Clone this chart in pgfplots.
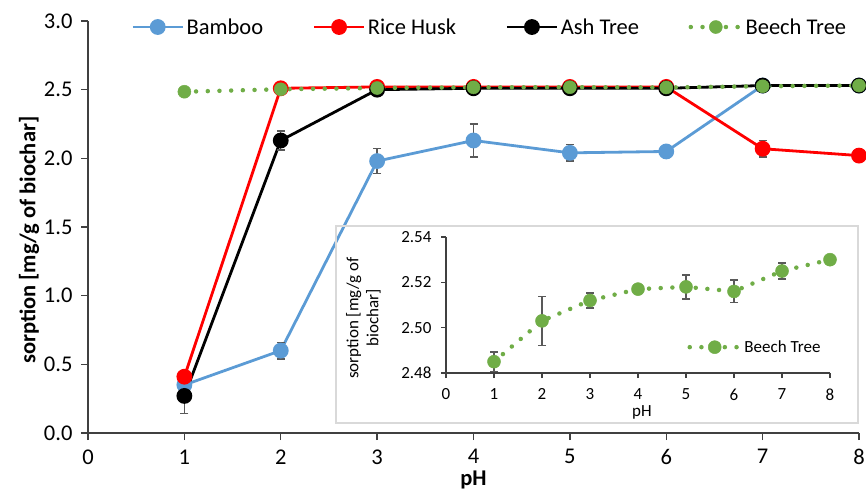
\documentclass[border=0pt]{standalone}
\usepackage{fontspec}
\setmainfont{Carlito}
\usepackage{pgfplots}
\pgfplotsset{compat=1.18}
\usepackage{pgfplotstable}

\definecolor{bamboo}{HTML}{5B9BD5}
\definecolor{husk}{HTML}{FF0000}
\definecolor{beech}{HTML}{70AD47}
\definecolor{axisgray}{HTML}{404040}
\definecolor{errgray}{HTML}{595959}
\definecolor{framegray}{HTML}{D9D9D9}

% sorption data: pH, mean sorption, standard deviation
\pgfplotstableread{
x y e
1 0.35 0
2 0.60 0.06
3 1.98 0.09
4 2.13 0.12
5 2.04 0.06
6 2.05 0
7 2.53 0
8 2.53 0
}\bambootab
\pgfplotstableread{
x y e
1 0.41 0
2 2.51 0
3 2.52 0
4 2.52 0
5 2.52 0
6 2.52 0
7 2.07 0.06
8 2.02 0
}\husktab
\pgfplotstableread{
x y e
1 0.27 0.13
2 2.13 0.07
3 2.50 0
4 2.51 0
5 2.51 0
6 2.51 0
7 2.53 0
8 2.53 0
}\ashtab
\pgfplotstableread{
x y e
1 2.485 0.0043
2 2.503 0.0108
3 2.512 0.0033
4 2.517 0.0010
5 2.518 0.0053
6 2.516 0.0050
7 2.525 0.0035
8 2.530 0
}\beechtab

\newcommand{\mainfont}{\fontsize{22.5}{27}\selectfont}
\newcommand{\insetfont}{\fontsize{17}{20}\selectfont}

\pgfplotsset{
  solidline/.style={line width=2.8pt, mark=*, mark size=6.5pt, mark options={solid}},
  dotline/.style={line width=4.5pt, line cap=round, dash pattern=on 0pt off 11.7pt,
    mark=*, mark size=6.5pt, mark options={solid, line width=0.5pt}},
  errs/.style={error bars/.cd, y dir=both, y explicit, error mark=|,
    error bar style={solid, line cap=butt, line width=1.4pt, errgray},
    error mark options={solid, line width=1.4pt, errgray, mark size=4pt}},
  twolegend/.style={legend image code/.code={
      \draw[##1] (0pt,0pt) -- (50pt,0pt);
      \draw[##1] plot coordinates {(25pt,0pt)};}},
  basestyle/.style={
    scale only axis, clip=false,
    axis x line*=bottom, axis y line*=left,
    axis line style={axisgray, line width=1.3pt},
    tick style={axisgray, line width=1.3pt},
    tick align=outside,
    /pgf/number format/assume math mode=true,
    xmin=0, xmax=8, xtick={0,...,8},
  },
}

\begin{document}
\begin{tikzpicture}
\useasboundingbox (0,0) rectangle (866pt,491pt);

\begin{axis}[basestyle,
  at={(88pt,58pt)}, anchor=south west,
  width=771pt, height=412pt,
  ymin=0, ymax=3, ytick distance=0.5,
  major tick length=7pt,
  xticklabel shift=6pt, yticklabel shift=5pt,
  yticklabel style={/pgf/number format/.cd, fixed, fixed zerofill, precision=1},
  tick label style={font=\mainfont},
  xlabel={\textbf{pH}}, ylabel={\textbf{sorption [mg/g of biochar]}},
  every axis x label/.style={at={(axis description cs:0.5,-0.1262)}, anchor=base, font=\mainfont},
  every axis y label/.style={at={(axis description cs:-0.0765,0.468)}, rotate=90, anchor=center, font=\mainfont},
  twolegend,
  legend columns=4,
  legend style={draw=none, fill=none, font=\mainfont,
    at={(0.5214,0.9854)}, anchor=center,
    nodes={inner sep=2.5pt},
    /tikz/every even column/.append style={column sep=47pt}},
]
\addplot[solidline, bamboo, errs] table[x=x, y=y, y error=e] {\bambootab};
\addlegendentry{Bamboo}
\addplot[solidline, husk, errs] table[x=x, y=y, y error=e] {\husktab};
\addlegendentry{Rice Husk}
\addplot[solidline, black, errs] table[x=x, y=y, y error=e] {\ashtab};
\addlegendentry{Ash Tree}
\addplot[dotline, beech] table[x=x, y=y] {\beechtab};
\addlegendentry{Beech Tree}
\end{axis}

% frame of the inset
\draw[framegray, line width=1.3pt] (336pt,68pt) rectangle (858pt,265pt);

\begin{axis}[basestyle,
  at={(446pt,118pt)}, anchor=south west,
  width=384pt, height=136pt,
  ymin=2.48, ymax=2.54, ytick={2.48,2.50,2.52,2.54},
  major tick length=5pt,
  xticklabel shift=7pt, yticklabel shift=6pt,
  yticklabel style={/pgf/number format/.cd, fixed, fixed zerofill, precision=2},
  tick label style={font=\insetfont},
  xlabel={pH}, ylabel={sorption [mg/g of\\biochar]},
  every axis x label/.style={at={(axis description cs:0.51,-0.287)}, anchor=center, font=\insetfont},
  every axis y label/.style={at={(axis description cs:-0.215,0.404)}, rotate=90, anchor=center, align=center, font=\insetfont},
  twolegend,
  legend style={draw=none, fill=none, font=\insetfont,
    at={(0.99,0.19)}, anchor=east, nodes={inner sep=2.5pt}},
]
\addplot[dotline, beech, errs] table[x=x, y=y, y error=e] {\beechtab};
\addlegendentry{Beech Tree}
\end{axis}
\end{tikzpicture}
\end{document}
